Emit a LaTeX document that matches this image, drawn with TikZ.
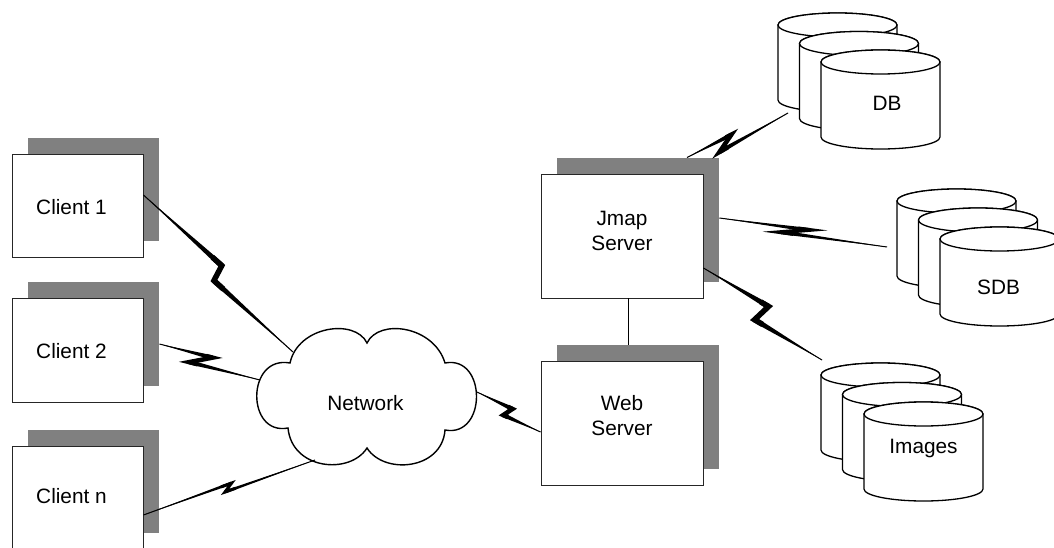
\documentclass[tikz,border=0pt]{standalone}
\usepackage{fontspec}
\setmainfont{Liberation Sans}
\usetikzlibrary{calc,shadows}
\definecolor{shadowgray}{RGB}{128,128,128}
\tikzset{
  box/.style={draw=black!85, line width=0.9pt, fill=white, inner sep=0pt,
    general shadow={fill=shadowgray, shadow xshift=16pt, shadow yshift=16pt}},
  cylst/.style={draw=black, line width=1.3pt, fill=white},
  cloudst/.style={draw=black, line width=1.4pt, fill=white},
  link/.style={draw=black, line width=1pt},
}
% A, B, fP, hP, fQ, hQ, half width, width
\newcommand\bolt[8]{%
  \coordinate (bP) at ($(#1)!#3!(#2)!#4pt!90:(#2)$);
  \coordinate (bQ) at ($(#1)!#5!(#2)!#6pt!-90:(#2)$);
  \fill (#1) -- ($(bP)!#7pt!90:(#1)$) -- ($(bP)!#7pt!-90:(#1)$) -- cycle;
  \fill (#2) -- ($(bQ)!#7pt!90:(#2)$) -- ($(bQ)!#7pt!-90:(#2)$) -- cycle;
  \draw[line width=#8pt, line join=miter] ($(bP)!0.12!(#1)$) -- (bP) -- (bQ) -- ($(bQ)!0.12!(#2)$);
  \draw[line width=1pt] (#1) -- (bP) -- (bQ) -- (#2);
}
\newcommand\cylshape[2]{%
  \filldraw[cylst] (#1,-#2-12) -- (#1,-#2-87) arc[start angle=180,end angle=360,x radius=59.5,y radius=12] -- (#1+119,-#2-12) arc[start angle=0,end angle=180,x radius=59.5,y radius=12] -- cycle;
  \draw[cylst] (#1+59.5,-#2-12) ellipse[x radius=59.5,y radius=12];
}
\begin{document}
\begin{tikzpicture}[x=1pt, y=1pt, font=\fontsize{20.8pt}{25pt}\selectfont]
\useasboundingbox (0,0) rectangle (1054,-548);
\clip (0,0) rectangle (1054,-548);

% clients
\node[box, minimum width=131pt, minimum height=103pt,
  label={[xshift=-6pt, yshift=-1.5pt]center:Client 1}] (c1) at (77.5,-205.5) {};
\node[box, minimum width=131pt, minimum height=104pt,
  label={[xshift=-6pt, yshift=-1.5pt]center:Client 2}] (c2) at (77.5,-350) {};
\node[box, minimum width=131pt, minimum height=103pt,
  label={[xshift=-6pt, yshift=1pt]center:Client n}] (cn) at (77.5,-497.5) {};

% servers
\node[box, minimum width=162pt, minimum height=124pt,
  label={[align=center, yshift=5.5pt]center:Jmap\\Server}] (jmap) at (622,-236) {};
\node[box, minimum width=162pt, minimum height=124pt,
  label={[align=center, yshift=7pt]center:Web\\Server}] (web) at (622,-423) {};

% cloud
\draw[cloudst] (290,-363) .. controls (298,-326) and (355,-318) .. (367,-343)
  .. controls (379,-318) and (434,-326) .. (445,-363)
  .. controls (487,-355) and (487,-438) .. (445,-430)
  .. controls (442,-470) and (384,-475) .. (367,-448)
  .. controls (350,-475) and (292,-470) .. (288,-428)
  .. controls (246,-436) and (246,-355) .. (290,-363) -- cycle;
\node (net) at (365.5,-403) {Network};
\coordinate (netA) at (293,-352);
\coordinate (netB) at (260,-380);
\coordinate (netC) at (315,-460);
\coordinate (netD) at (477,-392);

% databases
\cylshape{778}{13}
\cylshape{799.5}{31.5}
\cylshape{821}{50}
\node (db) at (887,-103) {DB};
\coordinate (dbin) at (788,-113);

\cylshape{897}{189}
\cylshape{918.5}{208}
\cylshape{940}{227}
\node (sdb) at (998.5,-287) {SDB};
\coordinate (sdbin) at (887,-247);

\cylshape{821}{363}
\cylshape{842.5}{382.5}
\cylshape{864}{402}
\node (img) at (923.5,-448) {Images};
\coordinate (imgin) at (822,-360);

% connectors
\coordinate (a1) at ($(c1.east)+(0,10.5)$);
\coordinate (a2) at ($(c2.east)+(16,6)$);
\coordinate (a3) at ($(cn.east)+(0,-17.5)$);
\coordinate (w1) at ($(web.west)+(0,-9)$);
\coordinate (j1) at ($(jmap.north)+(65,16)$);
\coordinate (j2) at ($(jmap.east)+(16,18)$);
\coordinate (j3) at ($(jmap.east)+(0,-32)$);

\bolt{a1}{netA}{0.485}{8}{0.51}{8}{2.75}{5.5}
\bolt{a2}{netB}{0.51}{5}{0.32}{7}{2.25}{4.5}
\bolt{a3}{netC}{0.52}{3.5}{0.47}{3}{1.5}{3}
\bolt{netD}{w1}{0.52}{4.5}{0.46}{5.5}{2.25}{4.5}
\bolt{j1}{dbin}{0.45}{3}{0.29}{8}{2.25}{4.5}
\bolt{j2}{sdbin}{0.53}{3.5}{0.37}{3.5}{2}{4}
\bolt{j3}{imgin}{0.50}{9.5}{0.48}{9.5}{2.75}{5.5}

\draw[link] ($(jmap.south)+(6,0)$) -- ($(web.north)+(6,16)$);
\end{tikzpicture}
\end{document}
